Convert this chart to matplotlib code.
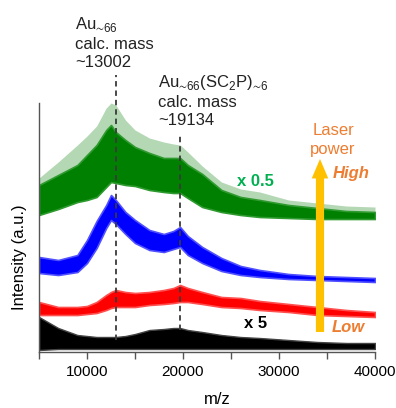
import matplotlib
matplotlib.use('Agg')
import matplotlib.pyplot as plt
from matplotlib.ticker import MultipleLocator

plt.rcParams['font.family'] = ['Liberation Sans', 'DejaVu Sans']
plt.rcParams['mathtext.fontset'] = 'custom'
plt.rcParams['mathtext.rm'] = 'Liberation Sans'

mz = [5000, 7000, 9000, 10000, 11000, 12000, 12500, 13000, 14000, 15000, 16500,
      18000, 19000, 19700, 20500, 22000, 24000, 26000, 28000, 31000, 34000,
      37000, 40000]

# highest laser power (x 0.5)
green_lo = [137, 143, 150, 152, 155, 165, 170, 169, 167, 166, 162,
            160, 159, 159, 154, 145, 140, 137, 135, 134, 133, 133, 133]
green_hi = [167, 177, 187, 197, 207, 222, 227, 220, 212, 205, 199,
            194, 194, 194, 187, 178, 162, 155, 152, 147, 144, 141, 140]
green_spike = [174, 190, 207, 216, 226, 244, 249, 247, 232, 222, 214,
               210, 208, 207, 200, 186, 170, 163, 160, 152, 149, 146, 145]

blue_lo = [79, 77, 80, 89, 104, 124, 132, 128, 118, 109, 102,
           100, 103, 105, 97, 89, 81, 77, 75, 73, 72, 71, 70]
blue_hi = [95, 92, 97, 112, 131, 147, 157, 152, 140, 132, 122,
           118, 121, 125, 116, 105, 94, 86, 82, 78, 76, 75, 74]

red_lo = [37, 37, 37, 38, 39, 42, 44, 45, 45, 45, 47,
          48, 49, 50, 50, 48, 45, 44, 42, 40, 37, 36, 35]
red_hi = [50, 45, 45, 46, 50, 57, 60, 62, 60, 59, 60,
          62, 64, 67, 64, 60, 55, 54, 51, 48, 45, 42, 40]

# lowest laser power (x 5)
black_lo = [2, 3, 3, 3, 3, 3, 3, 3, 3, 3, 3,
            3, 3, 3, 3, 3, 3, 3, 3, 3, 3, 3, 3]
black_hi = [35, 24, 17, 16, 15, 15, 15, 15, 16, 18, 22,
            23, 24, 24, 22, 20, 17, 15, 14, 12, 10, 9, 9]

# calculated masses (label) and where the dashed guides sit in the picture
calc_mass = ['13002', '19134']
guide_mz = [13020, 19700]
guide_top = [277, 219]
guide_bottom = [12, 22]

W, H = 396, 408
fig = plt.figure(figsize=(W / 100, H / 100), dpi=100)
ax = fig.add_axes([39 / W, 56 / H, 336 / W, 249 / H])


def px(x, y):
    return x / W, 1 - y / H


# spectra drawn as noise bands
ax.fill_between(mz, green_lo, green_spike, color='#5aa85a', alpha=0.45, lw=0)
ax.fill_between(mz, green_lo, green_hi, color='#008000', lw=1.2, edgecolor='#2f9a2f')
ax.fill_between(mz, blue_lo, blue_hi, color='#0000ff', lw=1.2, edgecolor='#5050ff')
ax.fill_between(mz, red_lo, red_hi, color='#ff0000', lw=1.2, edgecolor='#ff5050')
ax.fill_between(mz, black_lo, black_hi, color='black', lw=1.0, edgecolor='#444444')

for x, top, bot in zip(guide_mz, guide_top, guide_bottom):
    ax.plot([x, x], [bot, top], ls=(0, (3, 2.2)), color='#3a3a3a', lw=1.3,
            clip_on=False, zorder=5)

# laser power arrow
ax.annotate('', xy=(34270, 193), xytext=(34270, 20),
            arrowprops=dict(arrowstyle='simple,head_length=1.0,head_width=0.85,tail_width=0.42',
                            mutation_scale=14, color='#ffc000', lw=0,
                            shrinkA=0, shrinkB=0), zorder=6)

ax.set_xlim(5000, 40000)
ax.set_ylim(0, 249)
ax.xaxis.set_major_locator(MultipleLocator(10000))
ax.xaxis.set_minor_locator(MultipleLocator(5000))
ax.tick_params(axis='x', which='both', length=5, width=1, color='#555555',
               labelsize=11, pad=4)
ax.set_yticks([])
for side in ['top', 'right']:
    ax.spines[side].set_visible(False)
for side in ['left', 'bottom']:
    ax.spines[side].set_color('#555555')
    ax.spines[side].set_linewidth(1)

fig.text(*px(217, 400), 'm/z', fontsize=12, ha='center', va='center')
fig.text(*px(20, 257), 'Intensity (a.u.)', fontsize=12, rotation=90,
         ha='center', va='center')

sub66 = '$_{\\mathregular{\u223c66}}$'
sub6 = '$_{\\mathregular{\u223c6}}$'
fig.text(*px(75, 67), 'Au' + sub66 + '\ncalc. mass\n~' + calc_mass[0],
         fontsize=12, ha='left', va='baseline', linespacing=1.25, color='#222222')
fig.text(*px(158, 125), 'Au' + sub66 + '(SC$_2$P)' + sub6 + '\ncalc. mass\n~' + calc_mass[1],
         fontsize=12, ha='left', va='baseline', linespacing=1.25, color='#222222')

fig.text(*px(333, 140), 'Laser\npower', fontsize=12, ha='center', va='center',
         color='#ed7d31', linespacing=1.3)
fig.text(*px(351, 173), 'High', fontsize=12, ha='center', va='center',
         color='#ed7d31', fontweight='bold', fontstyle='italic')
fig.text(*px(348, 327), 'Low', fontsize=12, ha='center', va='center',
         color='#ed7d31', fontweight='bold', fontstyle='italic')
fig.text(*px(255, 181), 'x 0.5', fontsize=12, ha='center', va='center',
         color='#00b050', fontweight='bold')
fig.text(*px(256, 323), 'x 5', fontsize=12, ha='center', va='center',
         color='black', fontweight='bold')

fig.savefig('out.png', dpi=100)
